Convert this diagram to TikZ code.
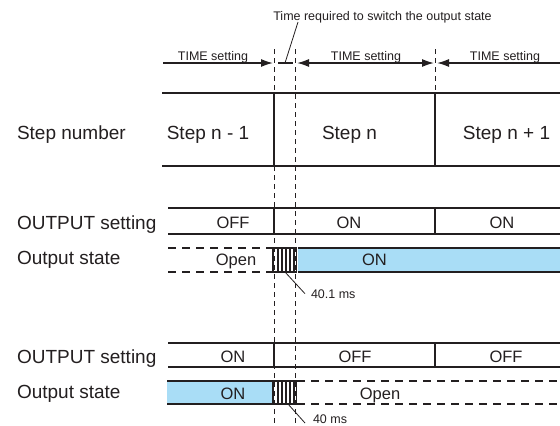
\documentclass[tikz,border=0pt]{standalone}
\usepackage{fontspec}
\setmainfont{Liberation Sans}
\usetikzlibrary{arrows.meta, calc}
\definecolor{cink}{HTML}{231F20}
\definecolor{cblue}{HTML}{A9DDF6}
\tikzset{
  every picture/.style={line width=2bp, draw=cink, text=cink},
  labeltxt/.style={font=\fontsize{19bp}{22bp}\selectfont, inner sep=0pt, anchor=base west},
  steptxt/.style={font=\fontsize{19bp}{22bp}\selectfont, inner sep=0pt, anchor=base},
  valtxt/.style={font=\fontsize{16.5bp}{19bp}\selectfont, inner sep=0pt, anchor=base},
  notetxt/.style={font=\fontsize{12.5bp}{15bp}\selectfont, inner sep=0pt, anchor=base},
  guide/.style={line width=0.9bp, dash pattern=on 5bp off 4bp},
  rowline/.style={line width=2.2bp},
  openline/.style={line width=2bp, dash pattern=on 8bp off 6bp},
  timearrow/.style={line width=1.5bp, -{Latex[length=12bp, width=8bp]}},
  leader/.style={line width=0.8bp},
  hatchline/.style={line width=1.3bp},
}

\begin{document}
\begin{tikzpicture}[x=1bp, y=-1bp]
  \useasboundingbox (0,0) rectangle (560,425);

  % switching instants
  \draw[guide] (274,49) -- (274,425);
  \draw[guide] (295.5,49) -- (295.5,425);
  \draw[guide] (435,49) -- (435,93);

  % TIME setting spans
  \coordinate (s0) at (163,63);
  \coordinate (s1) at (273,63);
  \coordinate (g0) at (278,63);
  \coordinate (g1) at (293,63);
  \coordinate (s2) at (297,63);
  \coordinate (s3) at (434,63);
  \coordinate (s4) at (437,63);
  \coordinate (s5) at (562,63);
  \draw[timearrow] (s0) -- (s1);
  \draw[line width=1.5bp] (g0) -- (g1);
  \draw[timearrow, {Latex[length=12bp, width=8bp]}-{Latex[length=12bp, width=8bp]}] (s2) -- (s3);
  \draw[timearrow] (s5) -- (s4);
  \node[notetxt] (ts1) at (213,60) {TIME setting};
  \node[notetxt] (ts2) at (366,60) {TIME setting};
  \node[notetxt] (ts3) at (505,60) {TIME setting};
  \node[notetxt] (sw) at (382.5,20) {Time required to switch the output state};
  \coordinate (swfoot) at (285,63);
  \coordinate (swtip) at (298,22);
  \draw[leader] (swfoot) -- (swtip);

  % step number row
  \node[labeltxt] (lstep) at (16,139) {Step number};
  \draw[rowline] (162,93) -- (562,93);
  \draw[rowline] (162,166) -- (562,166);
  \draw[line width=1.2bp] (274,93) -- (274,166);
  \draw[rowline] (435,93) -- (435,166);
  \node[steptxt] (st1) at (208,139) {Step n - 1};
  \node[steptxt] (st2) at (349.5,139) {Step n};
  \node[steptxt] (st3) at (506.5,139) {Step n + 1};

  % first case: OFF -> ON
  \node[labeltxt] (lset1) at (16,229) {OUTPUT setting};
  \draw[rowline] (168,208) -- (562,208);
  \draw[rowline] (168,234) -- (562,234);
  \draw[rowline] (274,208) -- (274,234);
  \draw[rowline] (435,208) -- (435,234);
  \node[valtxt] (v11) at (233,228) {OFF};
  \node[valtxt] (v12) at (349,228) {ON};
  \node[valtxt] (v13) at (502,228) {ON};

  \node[labeltxt] (lout1) at (16,264) {Output state};
  \draw[openline] (168,248) -- (273,248);
  \draw[openline] (168,272) -- (273,272);
  \fill[cblue] (297.5,248) rectangle (562,272);
  \draw[rowline] (297.5,248) -- (562,248);
  \draw[rowline] (297.5,272) -- (562,272);
  \draw[line width=1.8bp] (273,248) rectangle (296.5,272);
  \foreach \hx in {278,282,286,290,294}
    \draw[hatchline] (\hx,248) -- (\hx,272);
  \node[valtxt] (o11) at (236,265) {Open};
  \node[valtxt] (o12) at (374.5,265) {ON};
  \node[notetxt, anchor=base west] (ms1) at (310,298) {40.1 ms};
  \coordinate (lead1) at (285,272);
  \draw[leader] (lead1) -- ([xshift=-5bp]ms1.west);

  % second case: ON -> OFF
  \node[labeltxt] (lset2) at (16,363) {OUTPUT setting};
  \draw[rowline] (168,343) -- (562,343);
  \draw[rowline] (168,367) -- (562,367);
  \draw[rowline] (274,343) -- (274,367);
  \draw[rowline] (435,343) -- (435,367);
  \node[valtxt] (v21) at (233,362) {ON};
  \node[valtxt] (v22) at (355,362) {OFF};
  \node[valtxt] (v23) at (506,362) {OFF};

  \node[labeltxt] (lout2) at (16,398) {Output state};
  \fill[cblue] (167,381) rectangle (273,404);
  \draw[rowline] (167,381) -- (273,381);
  \draw[rowline] (167,404) -- (273,404);
  \draw[openline] (297,381) -- (562,381);
  \draw[openline] (297,404) -- (562,404);
  \draw[line width=1.8bp] (273,381) rectangle (296.5,404);
  \foreach \hx in {278,282,286,290,294}
    \draw[hatchline] (\hx,381) -- (\hx,404);
  \node[valtxt] (o21) at (233,399) {ON};
  \node[valtxt] (o22) at (380,399) {Open};
  \node[notetxt, anchor=base west] (ms2) at (312,423) {40 ms};
  \coordinate (lead2) at (288,404);
  \draw[leader] (lead2) -- ([xshift=-7bp]ms2.base west);
\end{tikzpicture}
\end{document}
